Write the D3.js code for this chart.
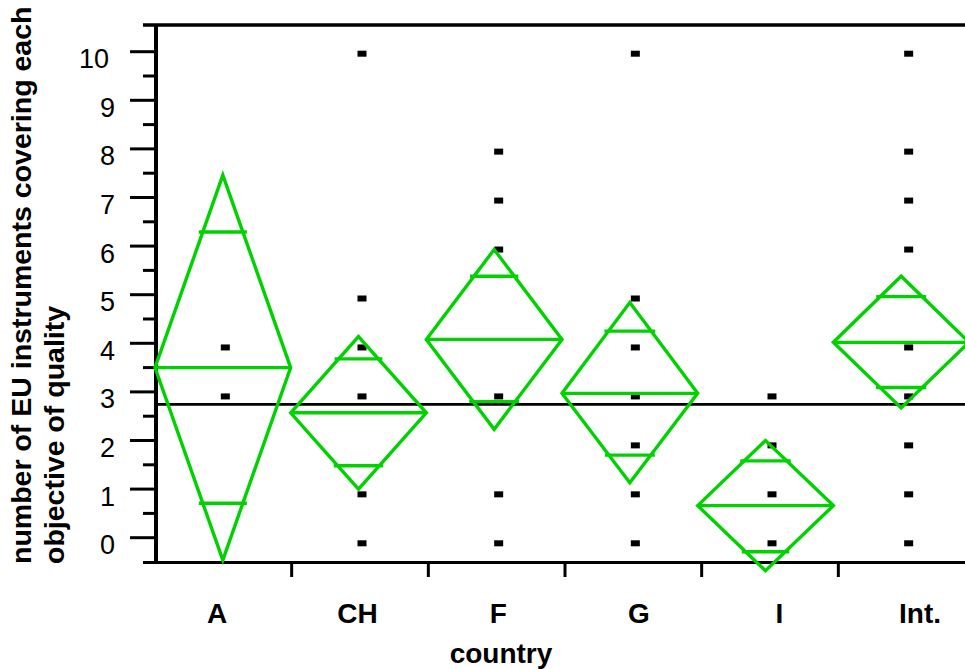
<!DOCTYPE html>
<html><head><meta charset="utf-8">
<script src="https://cdn.jsdelivr.net/npm/d3@7"></script>
<style>body{margin:0;background:#fff}svg{display:block}text{font-family:"Liberation Sans",Arial,sans-serif}</style>
</head><body><svg id="c" width="965" height="669"></svg>
<script>
// ---- data ----
const categories = ["A", "CH", "F", "G", "I", "Int."];
const means        = [3.50, 2.57, 4.08, 2.97, 0.66, 4.02];
const ciUpper      = [7.46, 4.14, 5.93, 4.84, 2.00, 5.38];
const ciLower      = [-0.46, 1.00, 2.23, 1.13, -0.68, 2.67];
const overlapUpper = [6.29, 3.68, 5.38, 4.25, 1.58, 4.96];
const overlapLower = [0.71, 1.48, 2.80, 1.70, -0.29, 3.09];
const grandMean = 2.745;
const pointsA   = [4, 3];
const pointsCH  = [10, 5, 4, 3, 1, 0];
const pointsF   = [8, 7, 6, 3, 1, 0];
const pointsG   = [10, 5, 4, 3, 2, 1, 0];
const pointsI   = [3, 2, 1, 0];
const pointsInt = [10, 8, 7, 6, 4, 3, 2, 1, 0];
const yTicks = [0, 1, 2, 3, 4, 5, 6, 7, 8, 9, 10];
const yMinorTicks = [0.5, 1.5, 2.5, 3.5, 4.5, 5.5, 6.5, 7.5, 8.5, 9.5];
const yTitle = ["number of EU instruments covering each", "objective of quality"];
const xTitle = "country";

const pointSets = [pointsA, pointsCH, pointsF, pointsG, pointsI, pointsInt];

// ---- layout ----
const plotLeft = 156, plotTop = 25, plotBottom = 562.5, plotRight = 965;
const green = "#00d200";

const svg = d3.select("#c");

const y = d3.scaleLinear().domain([0, 10]).range([537.7, 51.7]);
const yPts = d3.scaleLinear().domain([0, 10]).range([543.3, 53.7]);
const xAxisBand = d3.scaleBand().domain(categories).range([155, 975]).padding(0);
const xLabel = d3.scaleBand().domain(categories).range([146.7, 990.3]).padding(0);
const xD = d3.scaleBand().domain(categories).range([155, 969]).padding(0);

// frame lines
svg.append("line").attr("x1", 143).attr("x2", plotRight).attr("y1", plotTop).attr("y2", plotTop)
  .attr("stroke", "#000").attr("stroke-width", 3.3);
svg.append("line").attr("x1", 143).attr("x2", plotRight).attr("y1", plotBottom).attr("y2", plotBottom)
  .attr("stroke", "#000").attr("stroke-width", 3);
svg.append("line").attr("x1", plotLeft).attr("x2", plotLeft).attr("y1", plotTop).attr("y2", plotBottom + 1.5)
  .attr("stroke", "#000").attr("stroke-width", 4);

// y ticks
svg.append("g").selectAll("line").data(yTicks).join("line")
  .attr("x1", 130).attr("x2", plotLeft).attr("y1", d => y(d)).attr("y2", d => y(d))
  .attr("stroke", "#000").attr("stroke-width", 3);
svg.append("g").selectAll("line").data(yMinorTicks).join("line")
  .attr("x1", 143).attr("x2", plotLeft).attr("y1", d => y(d)).attr("y2", d => y(d))
  .attr("stroke", "#000").attr("stroke-width", 3);
svg.append("g").selectAll("text").data(yTicks).join("text")
  .attr("x", d => d >= 10 ? 109 : 115).attr("y", d => y(d) + 7).attr("dy", "0.35em")
  .attr("text-anchor", "end").attr("font-size", 27).attr("fill", "#000")
  .text(d => d);

// x ticks at band boundaries
const xBoundaries = categories.slice(1).map(c => xAxisBand(c));
svg.append("g").selectAll("line").data(xBoundaries).join("line")
  .attr("x1", d => d).attr("x2", d => d).attr("y1", plotBottom).attr("y2", 577)
  .attr("stroke", "#000").attr("stroke-width", 3);
svg.append("g").selectAll("text").data(categories).join("text")
  .attr("x", d => xLabel(d) + xLabel.bandwidth() / 2).attr("y", 623)
  .attr("text-anchor", "middle").attr("font-size", 28).attr("font-weight", "bold")
  .attr("fill", "#000").text(d => d);

// axis titles
svg.append("text").attr("x", 501).attr("y", 663).attr("text-anchor", "middle")
  .attr("font-size", 28).attr("font-weight", "bold").text(xTitle);
const yt = svg.append("g").attr("transform", "translate(0,564) rotate(-90)");
yt.selectAll("text").data(yTitle).join("text")
  .attr("x", 0).attr("y", (d, i) => 31 + i * 33)
  .attr("text-anchor", "start").attr("font-size", 28.5).attr("font-weight", "bold")
  .text(d => d);

// points
const ptData = [];
pointSets.forEach((arr, i) => arr.forEach(v => ptData.push({ c: categories[i], v })));
svg.append("g").selectAll("rect").data(ptData).join("rect")
  .attr("x", d => xAxisBand(d.c) + xAxisBand.bandwidth() / 2 + 2 - 4.5)
  .attr("y", d => yPts(d.v) - 3)
  .attr("width", 9).attr("height", 6).attr("fill", "#000");

// grand mean line
svg.append("line").attr("x1", plotLeft).attr("x2", plotRight)
  .attr("y1", y(grandMean)).attr("y2", y(grandMean))
  .attr("stroke", "#000").attr("stroke-width", 2.8);

// means diamonds
const dg = svg.append("g").attr("fill", "none").attr("stroke", green).attr("stroke-width", 3.4)
  .attr("stroke-linejoin", "miter");
categories.forEach((c, i) => {
  const x0 = xD(c), bw = xD.bandwidth(), xc = x0 + bw / 2, x1 = x0 + bw;
  const ym = y(means[i]), yTop = y(ciUpper[i]), yBot = y(ciLower[i]);
  const path = d3.path();
  path.moveTo(x0, ym); path.lineTo(xc, yTop); path.lineTo(x1, ym); path.lineTo(xc, yBot); path.closePath();
  dg.append("path").attr("d", path.toString());
  dg.append("line").attr("x1", x0).attr("x2", x1).attr("y1", ym).attr("y2", ym);
  [[overlapUpper[i], yTop], [overlapLower[i], yBot]].forEach(([ov, tip]) => {
    const yo = y(ov);
    const frac = Math.abs(yo - tip) / Math.abs(ym - tip);
    const hw = (bw / 2) * frac + 4;
    dg.append("line").attr("x1", xc - hw).attr("x2", xc + hw).attr("y1", yo).attr("y2", yo);
  });
});
</script></body></html>
